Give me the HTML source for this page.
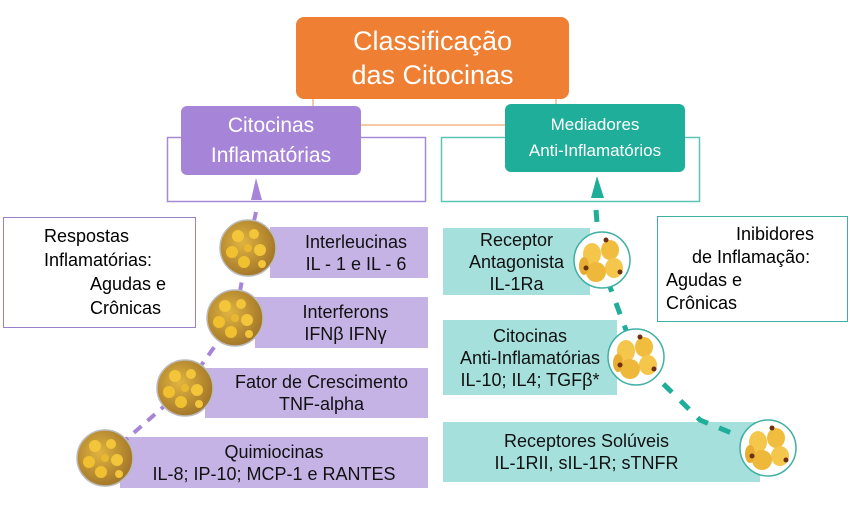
<!DOCTYPE html>
<html><head><meta charset="utf-8"><style>
body{margin:0;width:850px;height:505px;background:#fff;position:relative;overflow:hidden;font-family:"Liberation Sans",sans-serif;}
.a{position:absolute;box-sizing:border-box;}
.c{display:flex;align-items:center;justify-content:center;text-align:center;}
.t{font-size:18px;color:#111;line-height:22px;}
</style></head><body>
<svg class="a" style="left:0;top:0" width="850" height="505">
<path d="M313 98 V125 H505 M556 98 V105" stroke="#f3b98a" stroke-width="1.5" fill="none"/>
<rect x="167.5" y="137.5" width="258" height="64" fill="none" stroke="#a58ad6" stroke-width="1.5"/>
<rect x="441.5" y="137.5" width="258" height="64" fill="none" stroke="#5cc3b5" stroke-width="1.5"/>
</svg>
<div class="a c" style="left:296px;top:17px;width:273px;height:82px;background:#ee7f33;border-radius:8px;color:#fff;font-size:27px;line-height:34px;">Classificação<br>das Citocinas</div>
<div class="a c" style="left:181px;top:106px;width:180px;height:69px;background:#a685d8;border-radius:6px;color:#fff;font-size:21px;line-height:30px;">Citocinas<br>Inflamatórias</div>
<div class="a c" style="left:505px;top:104px;width:180px;height:68px;background:#1fae99;border-radius:6px;color:#fff;font-size:17px;line-height:26px;">Mediadores<br>Anti-Inflamatórios</div>
<div class="a" style="left:3px;top:217px;width:193px;height:111px;border:1.5px solid #9a80c8;font-size:18px;line-height:24px;padding:6px 0 0 40px;">Respostas<br>Inflamatórias:<br><span style="padding-left:46px">Agudas e</span><br><span style="padding-left:46px">Crônicas</span></div>
<div class="a" style="left:657px;top:216px;width:191px;height:106px;border:1.5px solid #3fb0a3;font-size:18px;line-height:23px;padding:6px 0 0 8px;"><span style="padding-left:70px">Inibidores</span><br><span style="padding-left:26px">de Inflamação:</span><br>Agudas e<br>Crônicas</div>
<div class="a c t" style="left:270px;top:227px;width:158px;height:51px;background:#c6b3e6;padding-left:14px;">Interleucinas<br>IL - 1 e IL - 6</div>
<div class="a c t" style="left:255px;top:297px;width:173px;height:51px;background:#c6b3e6;padding-left:8px;">Interferons<br>IFNβ IFNγ</div>
<div class="a c t" style="left:205px;top:368px;width:223px;height:50px;background:#c6b3e6;padding-left:10px;">Fator de Crescimento<br>TNF-alpha</div>
<div class="a c t" style="left:120px;top:437px;width:308px;height:51px;background:#c6b3e6;">Quimiocinas<br>IL-8; IP-10; MCP-1 e RANTES</div>
<div class="a c t" style="left:443px;top:228px;width:147px;height:67px;background:#a6e0dc;">Receptor<br>Antagonista<br>IL-1Ra</div>
<div class="a c t" style="left:443px;top:320px;width:174px;height:75px;background:#a6e0dc;">Citocinas<br>Anti-Inflamatórias<br>IL-10; IL4; TGFβ*</div>
<div class="a c t" style="left:443px;top:422px;width:317px;height:60px;background:#a6e0dc;padding-right:30px;">Receptores Solúveis<br>IL-1RII, sIL-1R; sTNFR</div>
<svg class="a" style="left:0;top:0" width="850" height="505">
<defs>
<radialGradient id="g" cx="0.4" cy="0.4" r="0.6"><stop offset="0" stop-color="#e0b440"/><stop offset="1" stop-color="#a5782a"/></radialGradient>
<g id="gold"><circle r="28" fill="url(#g)" stroke="#bbb" stroke-width="1.5"/>
<circle cx="-10" cy="-12" r="6" fill="#f2c53a"/><circle cx="6" cy="-14" r="5" fill="#f2c53a"/><circle cx="-16" cy="4" r="6" fill="#f0c030"/><circle cx="12" cy="2" r="6" fill="#f2c53a"/><circle cx="-4" cy="14" r="6" fill="#f0c030"/><circle cx="14" cy="16" r="4" fill="#f2c53a"/><circle cx="0" cy="0" r="4" fill="#e8b830"/></g>
<g id="cell"><circle r="28" fill="#fff" stroke="#3fb0a3" stroke-width="1.5"/>
<ellipse cx="-10" cy="-6" rx="9" ry="11" fill="#f4c64c"/><ellipse cx="8" cy="-10" rx="9" ry="10" fill="#f0bd3e"/><ellipse cx="12" cy="8" rx="9" ry="10" fill="#f4c64c"/><ellipse cx="-6" cy="12" rx="10" ry="10" fill="#eeb83a"/><ellipse cx="-18" cy="6" rx="5" ry="9" fill="#e8ae34"/>
<circle cx="-16" cy="8" r="2.5" fill="#6b3010"/><circle cx="18" cy="12" r="2.5" fill="#6b3010"/><circle cx="4" cy="-20" r="2.5" fill="#6b3010"/></g>
</defs>
<path d="M256 212 L248 248 L235 318 L185 388 L105 458 L80 468" stroke="#a685d8" stroke-width="4" stroke-dasharray="10 8" fill="none"/>
<polygon points="256,178 251,200 262,200" fill="#a685d8"/>
<path d="M596 210 L600 260 L636 357 L700 420 L768 448" stroke="#1fae99" stroke-width="5" stroke-dasharray="12 12" fill="none"/>
<polygon points="597,176 591,198 604,198" fill="#1fae99"/>
<use href="#gold" x="248" y="248"/><use href="#gold" x="235" y="318"/><use href="#gold" x="185" y="388"/><use href="#gold" x="105" y="458"/>
<use href="#cell" x="602" y="260"/><use href="#cell" x="636" y="357"/><use href="#cell" x="768" y="448"/>
</svg>
</body></html>
